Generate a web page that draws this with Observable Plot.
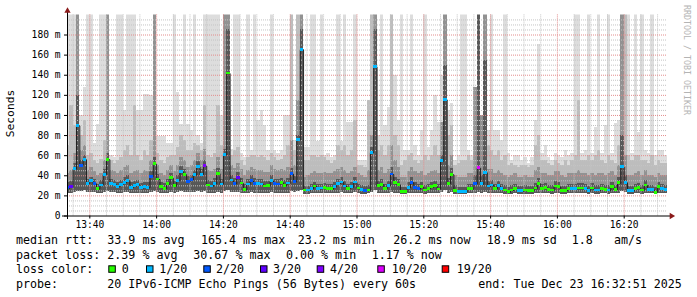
<!DOCTYPE html>
<html><head><meta charset="utf-8">
<script src="https://cdn.jsdelivr.net/npm/d3@7"></script>
<script src="https://cdn.jsdelivr.net/npm/@observablehq/plot@0.6"></script>
<style>
body{margin:0;background:#fff;}
#wrap{position:relative;width:697px;height:297px;overflow:hidden;background:#fff;}
#wrap svg{position:absolute;left:0;top:0;}
</style></head><body><div id="wrap"></div>
<script>
// ---- data (one value per 1-minute step, 20 pings each) ----
const median = [
27.6,28.6,46.5,89.7,49.5,56,32,34.6,32,26.7,30.3,41,56,31.6,31,
29,31,33,35,28,29.7,31,27.6,28.6,28,39,51.5,36.3,28.6,27,
31.6,37.6,29.6,35,44,41,34,35.6,40.6,48.8,41,49.6,30.3,29.3,32,
42,31.3,60.8,141.7,35.3,32,38,32.3,26,31.3,35,32,31.6,31.3,29.3,
29.6,35,31.6,31.3,32.6,30,32.3,41.6,34,75.4,165.4,25.3,25.3,27,29.3,
26.7,27.3,27.6,26.7,26.7,29,31.6,33.3,29.3,27,28.6,33.3,27.3,25.6,25,
25.3,62.8,148.4,29.6,31,27,29.6,41.3,32.6,31,23.6,23.6,28,33,28,
26.7,28.6,25.3,27,28.6,29.6,26.3,54.5,115.5,32,41,25,23.6,23.6,24,
27,26.7,32,47.5,31.6,43,29.3,30.3,27,29.6,26.7,25.3,23.6,25.3,26.7,
24.7,24.7,25.3,24.7,24.7,27.3,32,27,28,26,25.3,29.3,28.6,25,24.7,
27,27,27,27.3,27.3,27,24.7,27.3,25.3,25.3,26.7,26,25.3,28.6,26,
32.6,48.5,33,24.7,24.7,27,27.6,25.3,30.3,26,26,23.2,28.6,26.7,26.2];
const lossCount = [
2,3,1,1,2,1,1,1,2,0,1,1,0,1,1,
1,1,1,1,1,1,1,1,1,1,2,0,0,0,0,
0,0,0,1,1,0,2,2,1,1,1,4,0,1,1,
0,1,1,0,1,2,3,0,0,1,2,2,1,1,0,
0,1,2,2,0,0,1,2,2,1,1,0,1,1,0,
1,1,0,0,0,1,1,1,1,0,1,1,0,1,2,
0,1,1,0,0,0,1,2,0,0,0,0,1,2,2,
2,0,0,0,0,0,0,1,1,0,0,0,1,1,1,
0,0,2,10,1,1,1,1,0,1,1,0,0,0,0,
1,1,0,0,0,0,0,0,0,0,0,0,0,0,0,
0,1,1,0,0,1,1,0,1,1,0,0,1,0,0,
0,1,1,1,1,0,0,0,0,1,1,0,0,1,1];
// smoke: lowest ping, top of dark band, top of mid band, top of light band, highest ping (ms)
const pingLow = [
22,22,23,24,24,25,23,23,23,22,22,23,24,23,23,
22,22,23,23,22,22,22,22,22,22,23,24,23,22,22,
22,23,22,23,24,23,23,23,23,24,23,24,22,22,22,
23,22,24,25,23,23,23,22,22,22,23,22,22,22,22,
22,23,22,22,22,22,22,24,23,24,25,21,21,22,22,
22,22,22,22,22,22,22,23,22,22,22,23,22,21,21,
22,23,25,22,22,22,22,23,22,22,21,21,22,22,22,
22,22,21,22,22,22,22,23,25,22,23,21,21,21,21,
22,22,22,23,22,23,22,22,22,22,22,21,21,21,22,
21,21,21,21,21,22,22,22,22,22,21,22,22,21,21,
22,22,22,22,22,22,21,22,21,21,22,22,21,22,22,
22,24,23,21,21,22,22,21,22,22,22,21,22,22,22];
const smokeDark = [
33,34,52,120,55,60,36,38,36,31,35,46,62,36,35,
33,35,38,40,33,34,35,32,33,33,44,58,41,33,32,
36,42,34,40,49,46,39,40,45,54,46,55,35,34,37,
47,36,66,185,40,37,43,37,31,36,40,37,36,36,34,
34,40,36,36,37,35,37,47,39,80,185,29,29,31,33,
31,31,32,31,31,33,36,38,34,31,33,38,31,30,29,
30,68,185,34,36,31,34,48,38,36,28,28,33,38,33,
31,33,30,31,33,34,31,60,150,37,47,30,28,28,28,
31,31,40,200,40,155,34,35,31,34,31,30,28,30,31,
29,29,30,29,29,32,37,31,32,30,30,34,33,29,29,
31,31,31,32,32,31,29,32,30,30,31,30,30,33,30,
38,80,40,29,29,31,32,30,35,30,30,28,33,31,30];
const smokeMid = [
42,45,62,200,65,70,45,48,44,40,42,55,200,45,44,
42,45,48,50,42,44,45,42,45,44,55,200,50,42,40,
45,50,44,50,58,55,48,50,55,62,55,66,45,44,46,
58,46,200,200,50,47,52,46,40,45,48,46,45,45,43,
43,50,46,45,46,45,48,75,50,115,200,38,40,42,44,
42,42,43,42,42,44,46,48,45,42,44,48,42,40,38,
45,80,200,45,48,42,46,70,55,48,38,38,44,48,44,
42,44,40,42,44,45,42,93,200,50,60,40,38,38,38,
42,42,128,200,100,200,46,46,42,45,42,40,38,40,42,
38,38,40,38,38,45,48,42,42,40,40,44,44,40,38,
42,42,42,45,42,42,40,42,40,42,42,40,42,44,40,
50,200,60,40,40,42,44,40,45,40,40,38,42,40,40];
const smokeLight = [
70,110,90,200,80,95,60,62,55,52,56,75,200,55,52,
55,58,65,70,60,110,60,55,65,60,75,200,62,55,52,
58,60,60,68,80,75,65,65,72,70,65,110,60,58,62,
110,70,200,200,60,65,68,55,50,58,60,60,58,60,58,
55,62,58,55,56,60,70,200,65,200,200,55,55,60,60,
58,60,58,55,52,55,70,65,70,60,65,95,50,50,48,
115,200,200,65,70,60,70,200,80,70,50,55,60,62,55,
52,55,60,55,60,70,60,93,200,80,90,50,52,55,55,
60,55,128,200,100,200,70,65,60,65,55,60,50,52,50,
48,50,50,48,50,70,80,55,55,52,50,55,52,50,55,
50,55,60,115,55,55,60,55,60,65,55,52,60,55,52,
70,200,200,60,55,60,60,55,55,52,60,50,55,52,52];
const pingHigh = [
200,200,200,200,100,128,200,200,72,91,200,200,200,60,58,
200,200,105,200,200,200,105,105,121,121,120,200,79,79,79,
72,72,200,123,91,200,91,85,200,80,72,200,200,200,200,
200,100,200,200,66,200,200,62,58,200,65,200,95,105,90,
65,200,65,62,65,100,100,200,75,200,200,68,68,200,200,
74,200,60,62,58,60,200,74,200,93,93,200,55,55,55,
115,200,200,80,200,90,108,200,140,95,200,65,65,200,70,
60,85,200,68,85,120,93,140,200,105,112,55,60,200,200,
65,60,128,200,100,200,85,200,85,85,75,200,62,55,60,
60,55,58,52,58,95,171,62,70,58,55,62,60,58,65,
60,62,200,200,62,65,200,62,88,200,62,90,200,62,92,
95,200,200,200,62,200,83,200,65,62,200,60,65,65,60];

const yTicks = [0,20,40,60,80,100,120,140,160,180];
const xTickLabels = ["13:40","14:00","14:20","14:40","15:00","15:20","15:40","16:00","16:20"];
const lossLevels = [0,1,2,3,4,10,19];
const lossLabels = ["0","1/20","2/20","3/20","4/20","10/20","19/20"];
const lossColors = ["#26ff00","#00b8ff","#0059ff","#5e00ff","#7e00ff","#dd00ff","#ff0000"];
const legendHeads = ["median rtt:","packet loss:","loss color:","probe:"];
const rttStats = ["33.9 ms avg","165.4 ms max","23.2 ms min","26.2 ms now","18.9 ms sd","1.8","am/s"];
const lossStats = ["2.39 % avg","30.67 % max","0.00 % min","1.17 % now"];
const probeText = "20 IPv6-ICMP Echo Pings (56 Bytes) every 60s";
const endText = "end: Tue Dec 23 16:32:51 2025";
const yTitle = "Seconds";
const sideText = "RRDTOOL / TOBI OETIKER";

// ---- build ----
const P = d3.utcParse("%Y-%m-%d %H:%M:%S");
const firstStep = P("2025-12-23 13:33:00");
const viewStart = P("2025-12-23 13:33:19");
const viewEnd = P("2025-12-23 16:32:58");
const xTicks = xTickLabels.map(s => P("2025-12-23 " + s + ":00"));
const rows = median.map((v, i) => ({
  t0: d3.utcMinute.offset(firstStep, i), t1: d3.utcMinute.offset(firstStep, i + 1),
  median: v, loss: lossCount[i], lo: pingLow[i], dark: smokeDark[i], mid: smokeMid[i], light: smokeLight[i], hi: pingHigh[i]
}));
const colorFor = n => { let c = lossColors[0]; lossLevels.forEach((l, k) => { if (n >= l) c = lossColors[k]; }); return c; };
const minorY = d3.range(5, 200, 5).filter(v => v % 20 !== 0);
const majorY = yTicks.filter(v => v > 0);
const minorX = d3.utcMinute.every(5).range(viewStart, viewEnd).filter(d => d.getUTCMinutes() % 20 !== 0);
const band = (y1, y2, fill) => Plot.rect(rows, {x1: "t0", x2: "t1", y1, y2, fill, clip: true, shapeRendering: "crispEdges"});
const dotted = {strokeDasharray: "1,1", strokeWidth: 1};

const chart = Plot.plot({
  width: 697, height: 297, marginLeft: 67, marginRight: 30, marginTop: 14.4, marginBottom: 81.5,
  style: {fontFamily: "'DejaVu Sans Mono', monospace", fontSize: "9.6px", background: "transparent", color: "#000"},
  x: {type: "utc", domain: [viewStart, viewEnd], ticks: xTicks, tickFormat: d3.utcFormat("%H:%M"), tickSize: 3, tickPadding: 2, label: null},
  y: {domain: [0, 200], ticks: yTicks, tickFormat: d => d === 0 ? "0" : `${d} m`, tickSize: 3, tickPadding: 4, label: null},
  color: {type: "identity"},
  marks: [
    band("lo", "dark", "#585858"),
    band("dark", "mid", "#929292"),
    band("mid", "light", "#bdbdbd"),
    band("light", "hi", "#dddddd"),
    Plot.ruleY(minorY, {stroke: "#c4c4c4", ...dotted}),
    Plot.ruleX(minorX, {stroke: "#c4c4c4", ...dotted}),
    Plot.ruleY(majorY, {stroke: "#e38c8c", ...dotted}),
    Plot.ruleX(xTicks, {stroke: "#e38c8c", ...dotted}),
    Plot.line(rows, {x: d => new Date((+d.t0 + +d.t1) / 2), y: "median", curve: "step", stroke: "#202020", strokeWidth: 1, clip: true}),
    Plot.rect(rows, {x1: "t0", x2: "t1", y1: "median", y2: "median", insetTop: -1.4, insetBottom: -1.4, fill: d => colorFor(d.loss), clip: true, shapeRendering: "crispEdges"}),
    Plot.ruleY([0], {stroke: "#000", insetLeft: -5, insetRight: -3}),
    Plot.ruleX([viewStart], {stroke: "#000", insetTop: -5, insetBottom: -3.5}),
    Plot.dot([viewStart], {x: d => d, frameAnchor: "top", dy: -4, symbol: "triangle2", r: 3, fill: "#8b1a1a", stroke: "none"}),
    Plot.dot([viewEnd], {x: d => d, frameAnchor: "bottom", dx: 4, symbol: "triangle2", rotate: 90, r: 3, fill: "#8b1a1a", stroke: "none"})
  ]
});
document.getElementById("wrap").appendChild(chart);

// ---- titles and legend (text around the plot) ----
const lg = d3.select("#wrap").append("svg").attr("width", 697).attr("height", 297)
  .attr("font-family", "'DejaVu Sans Mono', monospace").attr("font-size", 11.66).attr("fill", "#000");
lg.append("text").attr("transform", "translate(10,113.5) rotate(-90)").attr("text-anchor", "middle")
  .attr("dominant-baseline", "central").attr("font-size", 11.3).text(yTitle);
lg.append("text").attr("transform", "translate(687.3,60) rotate(90)").attr("text-anchor", "middle")
  .attr("dominant-baseline", "central").attr("font-size", 8.3).attr("fill", "#b4b4b4").text(sideText);
const base = [244.3, 259, 273.3, 287.7];
const put = (x, y, s) => lg.append("text").attr("x", x).attr("y", y).style("white-space", "pre").text(s);
legendHeads.forEach((s, i) => put(16, base[i], s));
const rttX = [107.3, 201, 297.7, 393.3, 486.7, 571.7, 614];
rttStats.forEach((s, i) => put(rttX[i], base[0], s));
const lossX = [107.3, 193.3, 286, 371.7];
lossStats.forEach((s, i) => put(lossX[i], base[1], s));
const swX = [108.3, 146, 203.3, 260, 316.7, 377.3, 441.7];
const swLabX = [121.7, 159.3, 216, 273, 330, 391.7, 456.7];
lossLabels.forEach((s, i) => {
  lg.append("rect").attr("x", swX[i] + 0.5).attr("y", base[2] - 7.5).attr("width", 6.5).attr("height", 6.5)
    .attr("fill", lossColors[i]).attr("stroke", "#000").attr("stroke-width", 1);
  put(swLabX[i], base[2], s);
});
put(107.3, base[3], probeText);
put(478.3, base[3], endText);
</script>
</body></html>
